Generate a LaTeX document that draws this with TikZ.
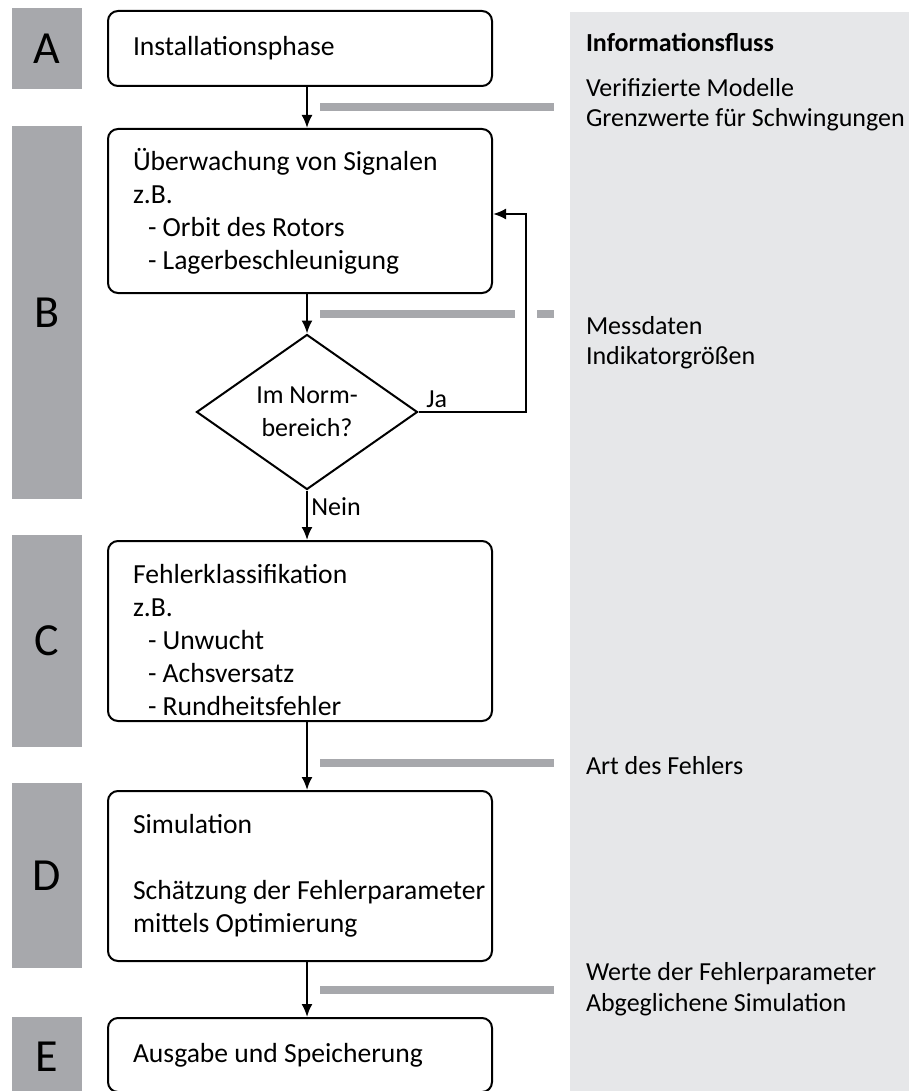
\documentclass[tikz,border=0pt]{standalone}
\usepackage{fontspec}
\setmainfont{Carlito}
\usepackage{tikz}
\usetikzlibrary{positioning,arrows.meta,shapes.geometric,calc}
\usepackage{xcolor}
\definecolor{phasegray}{RGB}{167,168,172}
\definecolor{panelgray}{RGB}{230,231,233}

\begin{document}
\begin{tikzpicture}[x=1pt, y=-1pt, >={Latex[length=13pt,width=11pt]}, line width=2pt, every node/.style={font=\fontsize{26}{33}\selectfont}]
\tikzstyle{proc}=[rectangle, draw, rounded corners=10pt, minimum width=384pt, text width=334pt, inner xsep=25pt, inner ysep=0pt, align=flush left, font=\fontsize{27.6}{33}\selectfont, execute at begin node={\spaceskip=0pt\xspaceskip=0pt\relax}]
\tikzstyle{phase}=[rectangle, fill=phasegray, minimum width=70pt, inner sep=0pt, font=\fontsize{46}{46}\selectfont]
\tikzstyle{info}=[anchor=base west, inner sep=0pt]
\tikzstyle{flowbar}=[draw=phasegray, line width=8pt]

\useasboundingbox (0,0) rectangle (909,1091);

% Information panel on the right
\node[fill=panelgray, minimum width=340pt, minimum height=1085pt, inner sep=0pt, anchor=north west] (panel) at (569,11) {};

% Phase labels
\node[phase, minimum height=81pt] (phA) at (47,48.5) {A};
\node[phase, minimum height=373pt] (phB) at (47,312.5) {B};
\node[phase, minimum height=212pt] (phC) at (47,641) {C};
\node[phase, minimum height=185pt] (phD) at (47,875.5) {D};
\node[phase, minimum height=80pt] (phE) at (47,1057) {E};

% Process steps
\node[proc, minimum height=75pt] (install) at (300,48.5) {Installationsphase};
\node[proc, minimum height=164pt] (monitor) at (300,211) {Überwachung von Signalen\\z.B.\\\hspace*{15pt}- Orbit des Rotors\\\hspace*{15pt}- Lagerbeschleunigung};
\node[draw, diamond, aspect=1.43, minimum width=221pt, minimum height=155pt, inner sep=0pt, align=center] (decide) at (307,412) {Im Norm-\\bereich?};
\node[proc, minimum height=180pt] (classify) at (300,631) {\rule{0pt}{38pt}Fehlerklassifikation\\z.B.\\\hspace*{15pt}- Unwucht\\\hspace*{15pt}- Achsversatz\\\hspace*{15pt}- Rundheitsfehler};
\node[proc, minimum height=170pt] (simul) at (300,876) {Simulation\\[33pt]\mbox{Schätzung der Fehlerparameter}\\mittels Optimierung};
\node[proc, minimum height=74pt] (output) at (300,1055) {Ausgabe und Speicherung};
\coordinate (jaback) at (526,214);

% Flow
\draw[->] (install.south -| decide) -- (monitor.north -| decide);
\draw[->] (monitor.south -| decide) -- (decide.north);
\draw[->] (decide.east) -- node[pos=0.17, above] {Ja} (decide.east -| jaback) -- (jaback) -- (jaback -| monitor.east);
\draw[->] (decide.south) -- node[pos=0.33, right] {Nein} (classify.north -| decide);
\draw[->] (classify.south -| decide) -- (simul.north -| decide);
\draw[->] (simul.south -| decide) -- (output.north -| decide);

% Information bars
\draw[flowbar] (320,107) -- (554,107);
\draw[flowbar] (320,313.5) -- (515,313.5);
\draw[flowbar] (537,313.5) -- (554,313.5);
\draw[flowbar] (320,763) -- (554,763);
\draw[flowbar] (320,990) -- (554,990);

% Information texts
\node[info, font=\bfseries\fontsize{26}{30}\selectfont] (infohead) at (585,52) {Informationsfluss};
\node[info] (infoA1) at (585,97) {Verifizierte Modelle};
\node[info] (infoA2) at (585,127) {Grenzwerte für Schwingungen};
\node[info] (infoB1) at (585,334) {Messdaten};
\node[info] (infoB2) at (585,364) {Indikatorgrößen};
\node[info] (infoC1) at (585,774) {Art des Fehlers};
\node[info] (infoD1) at (585,980) {Werte der Fehlerparameter};
\node[info] (infoD2) at (585,1011) {Abgeglichene Simulation};
\end{tikzpicture}
\end{document}
